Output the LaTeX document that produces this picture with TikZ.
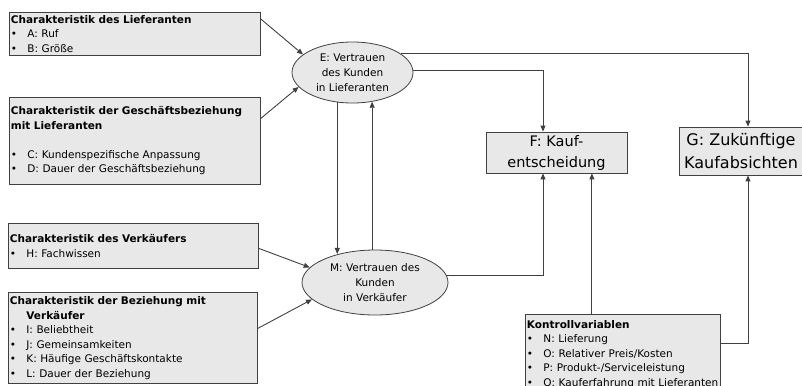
\documentclass[tikz,border=0pt]{standalone}
\usepackage{fontspec}
\setmainfont{DejaVu Sans}
\usetikzlibrary{
    arrows.meta,
    positioning,
    shapes.geometric,
    calc,
}
\newcommand{\pkt}[1]{\mbox{\makebox[16.5bp][l]{\textbullet}#1}}

\begin{document}
\begin{tikzpicture}[x=1bp, y=-1bp,
    kasten/.style={rectangle, draw=black!75, fill=gray!18, line width=0.8bp,
        inner sep=1.5bp, align=left, anchor=north west,
        font=\fontsize{10.5bp}{14.5bp}\selectfont},
    oval/.style={ellipse, draw=black!75, fill=gray!18, line width=0.8bp,
        inner sep=0pt, align=center, font=\fontsize{10.5bp}{15bp}\selectfont},
    ziel/.style={rectangle, draw=black!75, fill=gray!18, line width=0.8bp,
        inner sep=0pt, align=center, font=\fontsize{14.5bp}{21bp}\selectfont},
    pfeil/.style={draw=black!75, line width=0.9bp, -{Triangle[length=6bp,width=5bp]}},
    ]
    \useasboundingbox (0,0) rectangle (802,385);
    \clip (0,0) rectangle (802,385);

    % Einflussfaktoren links
    \node[kasten, text width=248bp, minimum height=43bp] (lief) at (9,12)
        {\textbf{Charakteristik des Lieferanten}\\\pkt{A: Ruf}\\\pkt{B: Größe}};
    \node[kasten, text width=248bp, minimum height=87bp] (bez) at (9,97)
        {\textbf{Charakteristik der Geschäftsbeziehung}\\\textbf{mit Lieferanten}\\[14.5bp]
         \pkt{C: Kundenspezifische Anpassung}\\\pkt{D: Dauer der Geschäftsbeziehung}};
    \node[kasten, text width=247bp, minimum height=45bp] (verk) at (8,223)
        {\textbf{Charakteristik des Verkäufers}\\\pkt{H: Fachwissen}};
    \node[kasten, text width=246bp, minimum height=91bp] (bezv) at (8,292)
        {\textbf{Charakteristik der Beziehung mit}\\\hspace*{16.5bp}\textbf{Verkäufer}\\
         \pkt{I: Beliebtheit}\\\pkt{J: Gemeinsamkeiten}\\
         \pkt{K: Häufige Geschäftskontakte}\\\pkt{L: Dauer der Beziehung}};

    % Vertrauen
    \node[oval, minimum width=121bp, minimum height=61bp] (vE) at (352.5,72.5)
        {E: Vertrauen\\des Kunden\\in Lieferanten};
    \node[oval, minimum width=146bp, minimum height=65bp] (vM) at (375,282.5)
        {M: Vertrauen des\\Kunden\\in Verkäufer};

    % Ergebnisse
    \node[ziel, minimum width=141bp, minimum height=41bp] (kauf) at (556.5,152.5)
        {F: Kauf-\\entscheidung};
    \node[ziel, minimum width=124bp, minimum height=48bp,
        font=\fontsize{16bp}{23bp}\selectfont] (absicht) at (741,151)
        {G: Zukünftige\\Kaufabsichten};

    \node[kasten, text width=192bp, minimum height=80bp] (kontr) at (525,314)
        {\textbf{Kontrollvariablen}\\\pkt{N: Lieferung}\\\pkt{O: Relativer Preis/Kosten}\\
         \pkt{P: Produkt-/Serviceleistung}\\\pkt{Q: Kauferfahrung mit Lieferanten}};

    % Pfeile
    \draw[pfeil] ([yshift=-7bp]lief.north east) -- (vE.160);
    \draw[pfeil] ([yshift=22.5bp]bez.east) -- (vE.195);
    \draw[pfeil] ([yshift=-2.5bp]verk.east) -- (vM.167);
    \draw[pfeil] ([yshift=9.5bp]bezv.east) -- (vM.195);
    \draw[pfeil] (vE.243.9) -- (vE.243.9 |- vM.142.9);
    \draw[pfeil] (vM.95.3) -- (vM.95.3 |- vE.304);
    \draw[pfeil] ([yshift=2.5bp]vE.east) -| ([xshift=-13.5bp]kauf.north);
    \draw[pfeil] (vE.21) -| ([xshift=7bp]absicht.north);
    \draw[pfeil] (vM.6) -| ([xshift=-13.5bp]kauf.south);
    \draw[pfeil] ([xshift=-31bp]kontr.north) -- ([xshift=-31bp]kontr.north |- kauf.south);
    \draw[pfeil] ([yshift=-29bp]kontr.north east) -| ([xshift=7bp]absicht.south);
\end{tikzpicture}
\end{document}
